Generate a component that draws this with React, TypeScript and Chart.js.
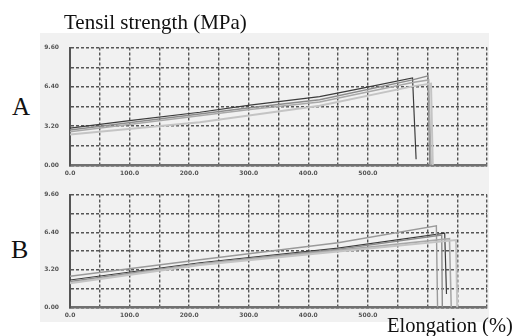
import React, { useEffect, useRef } from 'react';
import { Chart, registerables } from 'chart.js';

Chart.register(...registerables);

// Elongation (%) vs tensile strength (MPa)
const elongationLabels = [0, 100, 200, 300, 400, 500];
const strengthLabels = [0, 3.2, 6.4, 9.6];

// Panel A specimens: [elongation, strength]
const specimenA1 = [[0, 3.04], [100, 3.65], [218, 4.33], [302, 4.91], [419, 5.61], [487, 6.26], [575, 7.12], [581, 0.5]];
const specimenA2 = [[0, 2.89], [302, 4.7], [419, 5.35], [575, 6.97], [601, 7.3], [604, 0]];
const specimenA3 = [[0, 2.74], [302, 4.55], [419, 5.16], [575, 6.75], [602, 6.97], [606, 0]];
const specimenA4 = [[0, 2.51], [218, 3.52], [419, 4.86], [575, 6.44], [606, 6.67], [609, 0]];

// Panel B specimens
const specimenB1 = [[0, 2.65], [218, 4.05], [450, 5.5], [615, 6.95], [617, 0]];
const specimenB2 = [[0, 2.33], [218, 3.8], [450, 5.05], [629, 6.32], [632, 1.14]];
const specimenB3 = [[0, 2.2], [218, 3.72], [450, 4.95], [624, 6.15], [625, 0]];
const specimenB4 = [[0, 2.1], [218, 3.68], [450, 4.85], [637, 5.85], [640, 0]];
const specimenB5 = [[0, 2.05], [218, 3.6], [450, 4.75], [648, 5.73], [650, 0]];

type Series = { pts: number[][]; color: string; width: number };

const panelA: Series[] = [
  { pts: specimenA4, color: '#c4c4c4', width: 2 },
  { pts: specimenA3, color: '#a8a8a8', width: 1.6 },
  { pts: specimenA2, color: '#8c8c8c', width: 1.4 },
  { pts: specimenA1, color: '#3c3c3c', width: 1.2 },
];
const panelB: Series[] = [
  { pts: specimenB5, color: '#c4c4c4', width: 2 },
  { pts: specimenB4, color: '#a8a8a8', width: 1.6 },
  { pts: specimenB3, color: '#8c8c8c', width: 1.4 },
  { pts: specimenB1, color: '#9a9a9a', width: 1.4 },
  { pts: specimenB2, color: '#3c3c3c', width: 1.2 },
];

const tickFont = { family: "'DejaVu Sans', sans-serif", size: 6, weight: 'bold' as const };

function makeConfig(series: Series[], xAxisHeight: number, padTop: number): any {
  return {
    type: 'line',
    data: {
      datasets: series.map((s) => ({
        data: s.pts.map(([x, y]) => ({ x, y })),
        borderColor: s.color,
        borderWidth: s.width,
        pointRadius: 0,
        tension: 0,
        fill: false,
      })),
    },
    options: {
      animation: false,
      responsive: true,
      maintainAspectRatio: false,
      layout: { padding: { top: padTop, right: 5, left: 0, bottom: 0 } },
      plugins: { legend: { display: false }, tooltip: { enabled: false } },
      scales: {
        x: {
          type: 'linear',
          min: 0,
          max: 700,
          afterFit: (s: any) => { s.height = xAxisHeight; },
          ticks: {
            stepSize: 50,
            autoSkip: false,
            maxRotation: 0,
            padding: 4,
            color: '#555',
            font: tickFont,
            callback: (v: any) => (elongationLabels.includes(Number(v)) ? Number(v).toFixed(1) : ''),
          },
          grid: { color: '#555', lineWidth: 1.4, drawTicks: false },
          border: { display: true, color: '#707070', width: 2.5, dash: [3, 2] },
        },
        y: {
          type: 'linear',
          min: 0,
          max: 9.6,
          afterFit: (s: any) => { s.width = 30; },
          ticks: {
            stepSize: 1.6,
            autoSkip: false,
            padding: 11,
            color: '#555',
            font: tickFont,
            callback: (v: any) => {
              const n = Number(v);
              return strengthLabels.some((t) => Math.abs(t - n) < 1e-6) ? n.toFixed(2) : '';
            },
          },
          grid: { color: '#555', lineWidth: 1.4, drawTicks: false },
          border: { display: true, color: '#555', width: 2, dash: [3, 2] },
        },
      },
    },
  };
}

function Panel({ series, style, xAxisHeight, padTop }: { series: Series[]; style: React.CSSProperties; xAxisHeight: number; padTop: number }) {
  const ref = useRef<HTMLCanvasElement>(null);
  useEffect(() => {
    if (!ref.current) return;
    const chart = new Chart(ref.current, makeConfig(series, xAxisHeight, padTop));
    return () => chart.destroy();
  }, []);
  return (
    <div style={{ position: 'absolute', ...style }}>
      <canvas ref={ref} />
    </div>
  );
}

const serif = "'Liberation Serif', 'Times New Roman', serif";

export default function App() {
  return (
    <div style={{ position: 'fixed', left: 0, top: 0, width: 517, height: 336, overflow: 'hidden', background: '#fff' }}>
      <div style={{ position: 'absolute', left: 40, top: 33, width: 449, height: 289, background: '#f1f1f1' }} />
      <Panel series={panelA} style={{ left: 40, top: 33, width: 452, height: 147 }} xAxisHeight={12} padTop={8} />
      <Panel series={panelB} style={{ left: 40, top: 180, width: 452, height: 142 }} xAxisHeight={10} padTop={5} />
      <div style={{ position: 'absolute', left: 64, top: 12, fontFamily: serif, fontSize: 21, lineHeight: '21px', color: '#111', whiteSpace: 'nowrap' }}>
        Tensil strength (MPa)
      </div>
      <div style={{ position: 'absolute', left: 12, top: 94, fontFamily: serif, fontSize: 25, lineHeight: '25px', color: '#111' }}>A</div>
      <div style={{ position: 'absolute', left: 11, top: 237, fontFamily: serif, fontSize: 26, lineHeight: '26px', color: '#111' }}>B</div>
      <div style={{ position: 'absolute', left: 387, top: 315, fontFamily: serif, fontSize: 20.5, lineHeight: '21px', color: '#111', whiteSpace: 'nowrap' }}>
        Elongation (%)
      </div>
    </div>
  );
}
